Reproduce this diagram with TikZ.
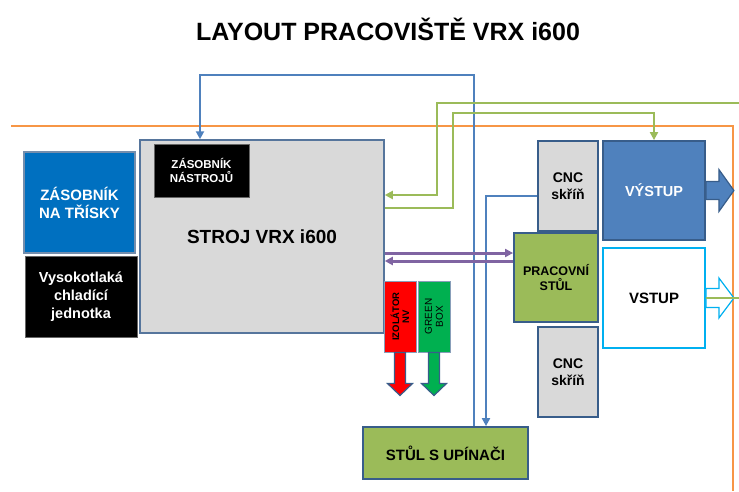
\documentclass[tikz,border=0pt]{standalone}
\usepackage{fontspec}
\setmainfont{Liberation Sans}
\usetikzlibrary{arrows.meta, positioning}
\definecolor{Frame}{HTML}{385D8A}
\definecolor{MachineGray}{HTML}{D9D9D9}
\definecolor{WireBlue}{HTML}{4F81BD}
\definecolor{WireGreen}{HTML}{9BBB59}
\definecolor{WirePurple}{HTML}{8064A2}
\definecolor{WireOrange}{HTML}{F79646}
\definecolor{ChipBlue}{HTML}{0070C0}
\definecolor{OutBlue}{HTML}{4F81BD}
\definecolor{InCyan}{HTML}{00B0F0}
\definecolor{TableGreen}{HTML}{9BBB59}
\definecolor{BoxGreen}{HTML}{00B050}
\definecolor{BoxRed}{HTML}{FF0000}

\begin{document}
\begin{tikzpicture}[
  x=1pt, y=-1pt,
  font=\bfseries,
  size/.style 2 args={minimum width=#1, minimum height=#2},
  box/.style={draw=Frame, line width=1.8pt, align=center, inner sep=0pt},
  graybox/.style={box, fill=MachineGray},
  darkbox/.style={box, fill=black, draw=black!60, line width=0.8pt, text=white},
  greenbox/.style={box, fill=TableGreen},
  fatarrow/.style={draw=Frame, line width=1.2pt, line join=miter},
  wire/.style={line width=2.6pt},
  tip/.style={-{Triangle[length=8pt, width=8pt]}},
  bluewire/.style={wire, draw=WireBlue},
  greenwire/.style={wire, draw=WireGreen},
  purplewire/.style={wire, draw=WirePurple, line width=3pt},
  orangewire/.style={wire, draw=WireOrange, line width=2.6pt}
]
\useasboundingbox (0,0) rectangle (739,491);

\node[font=\bfseries\fontsize{25}{28}\selectfont] (title) at (388,29) {LAYOUT PRACOVIŠTĚ VRX i600};

% hranice pracoviste
\coordinate (orangeA) at (11,126);
\coordinate (orangeB) at (733,126);
\coordinate (orangeC) at (733,491);
\draw[orangewire] (orangeA) -- (orangeB) -- (orangeC);

\node[graybox, size={244pt}{193pt}, draw=Frame!85, line width=1.5pt, font=\bfseries\fontsize{19}{22}\selectfont] (stroj) at (262,236.5) {STROJ VRX i600};
\node[darkbox, size={95pt}{53pt}, font=\bfseries\fontsize{11.5}{14}\selectfont] (nastroje) at (201.5,170.5) {ZÁSOBNÍK\\NÁSTROJŮ};
\node[box, fill=ChipBlue, draw=Frame!70, line width=1.2pt, text=white, size={111pt}{101pt}, font=\bfseries\fontsize{15}{18}\selectfont] (trisky) at (79.5,202.5) {ZÁSOBNÍK\\NA TŘÍSKY};
\node[darkbox, size={112pt}{81pt}, font=\bfseries\fontsize{14.5}{18}\selectfont] (chlazeni) at (81,296.5) {Vysokotlaká\\chladící\\jednotka};

\node[graybox, size={60pt}{90pt}, font=\bfseries\fontsize{14}{17}\selectfont] (cncA) at (568,186) {CNC\\skříň};
\node[graybox, size={60pt}{90pt}, font=\bfseries\fontsize{14}{17}\selectfont] (cncB) at (568,372) {CNC\\skříň};
\node[box, fill=OutBlue, text=white, size={102pt}{99pt}, font=\bfseries\fontsize{14.5}{17}\selectfont] (vystup) at (654,190.5) {VÝSTUP};
\node[box, fill=white, draw=InCyan, size={102pt}{100pt}, font=\bfseries\fontsize{15}{18}\selectfont] (vstup) at (654,298) {VSTUP};
\node[greenbox, size={84pt}{89pt}, font=\bfseries\fontsize{12.5}{15}\selectfont] (pracstul) at (556,277.5) {PRACOVNÍ\\STŮL};
\node[greenbox, size={165pt}{52pt}, font=\bfseries\fontsize{15}{18}\selectfont] (upinace) at (445.5,453) {STŮL S UPÍNAČI};

\node[box, fill=BoxRed, draw=Frame!60, line width=1pt, size={32pt}{71pt}] (izolator) at (400,316.5) {};
\node[rotate=90, align=center, font=\bfseries\fontsize{9.5}{10}\selectfont] (izolatortext) at (izolator) {IZOLÁTOR\\NV};
\node[box, fill=BoxGreen, draw=Frame!60, line width=1pt, size={32pt}{71pt}] (greenbox) at (434,316.5) {};
\node[rotate=90, align=center, font=\fontsize{10}{11}\selectfont] (greenboxtext) at (greenbox) {GREEN\\BOX};

% tlusté šipky
\draw[fatarrow, fill=BoxRed] ([xshift=-5.5pt]izolator.south) -- ++(0,31) -- ++(-7,0) -- ++(12.5,12) -- ++(12.5,-12) -- ++(-7,0) -- ++(0,-31) -- cycle;
\draw[fatarrow, fill=BoxGreen] ([xshift=-5.5pt]greenbox.south) -- ++(0,31) -- ++(-7,0) -- ++(12.5,12) -- ++(12.5,-12) -- ++(-7,0) -- ++(0,-31) -- cycle;
\draw[fatarrow, fill=OutBlue] ([yshift=9pt]vystup.east) -- ++(13,0) -- ++(0,-12) -- ++(15,21) -- ++(-15,21) -- ++(0,-12) -- ++(-13,0) -- cycle;
\draw[fatarrow, draw=InCyan, fill=white] ([yshift=9.5pt]vstup.east) -- ++(13,0) -- ++(0,-10.5) -- ++(15,20) -- ++(-15,20) -- ++(0,-10.5) -- ++(-13,0) -- cycle;

% vedení
\coordinate (greenin) at (739,103);
\coordinate (greenout) at (739,298);
\draw[bluewire, tip] ([xshift=28.5pt]upinace.north) |- (200,75) -- ([xshift=-62pt]stroj.north);
\draw[bluewire, tip] ([yshift=-10pt]cncA.west) -| ([xshift=40.5pt]upinace.north);
\draw[greenwire, tip] (greenin) -| (437,195) -- ([yshift=41.5pt]stroj.east);
\draw[greenwire, tip] ([yshift=28.5pt]stroj.east) -| (453,113) -| (vystup.north);
\draw[greenwire] (vstup.east) -- (greenout);
\draw[purplewire, tip] ([yshift=-16.5pt]stroj.east) -- ([yshift=24.5pt]pracstul.west);
\draw[purplewire, tip] ([yshift=16.5pt]pracstul.west) -- ([yshift=-24.5pt]stroj.east);
\end{tikzpicture}
\end{document}
